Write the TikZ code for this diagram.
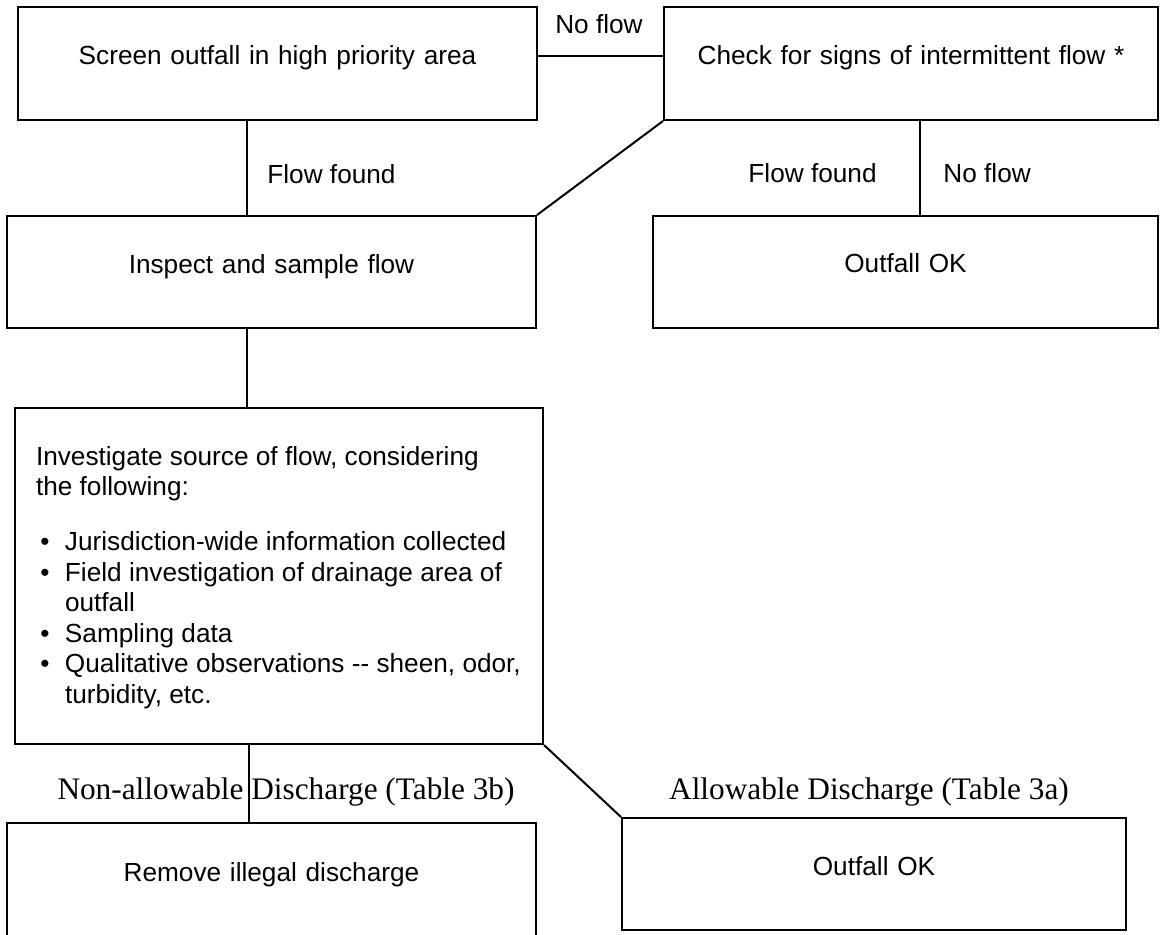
\documentclass[tikz,border=0pt]{standalone}
\usepackage{fontspec}
\setmainfont{Liberation Sans}
\newfontfamily\timesfont{Liberation Serif}
\newcommand{\bul}[1]{\par\hangindent=14.5pt\hangafter=1\noindent\makebox[14.5pt][l]{\hspace{2.2pt}\textbullet}#1}
\begin{document}
\begin{tikzpicture}[x=0.5pt,y=-0.5pt,
  box/.style={draw, line width=1pt, inner sep=0pt, align=center, font=\fontsize{13.1}{15.25}\selectfont},
  bigbox/.style={draw, line width=1pt, inner sep=0pt, font=\fontsize{13.1}{15.25}\selectfont},
  lab/.style={inner sep=0pt, font=\fontsize{13.1}{15.25}\selectfont},
  slab/.style={inner sep=0pt, font=\timesfont\fontsize{15.65}{18}\selectfont},
  conn/.style={line width=1pt}]
\useasboundingbox (0,0) rectangle (1160,934);
\fill[white] (0,0) rectangle (1160,934);

% boxes
\node[box, anchor=base, text width=259.5pt, text height=28.5pt, text depth=28pt] (screen) at (277.5,64) {Screen outfall in high priority area};
\node[box, anchor=base, text width=247pt, text height=28.5pt, text depth=28pt] (check) at (911,64) {Check for signs of intermittent flow *};
\node[box, anchor=base, text width=264.5pt, text height=28.5pt, text depth=27.5pt] (inspect) at (271.5,273) {Inspect and sample flow};
\node[box, anchor=base, text width=252.5pt, text height=28pt, text depth=28pt] (ok1) at (905.5,272) {Outfall OK};
\node[bigbox, anchor=base west, text height=28.5pt, text depth=139.5pt] (invest) at (14,465) {\parbox[t]{264pt}{\raggedright\leftskip=10.5pt\fontsize{13.1}{15.25}\selectfont
Investigate source of flow, considering\newline the following:\par
\vspace{12.25pt}
\bul{Jurisdiction-wide information collected}
\bul{Field investigation of drainage area of\newline outfall}
\bul{Sampling data}
\bul{Qualitative observations -{}- sheen, odor,\newline turbidity, etc.}\par}};
\node[box, anchor=base, text width=264.5pt, text height=29pt, text depth=29.5pt] (remove) at (271.5,881) {Remove illegal discharge};
\node[box, anchor=base, text width=252pt, text height=28.5pt, text depth=27.5pt] (ok2) at (874,875) {Outfall OK};

% connectors
\draw[conn] ([yshift=3.75pt]screen.east) -- ([yshift=3.75pt]check.west);
\coordinate (a1) at ([xshift=-15.25pt]screen.south);
\draw[conn] (a1) -- (a1 |- inspect.north);
\draw[conn] (check.south west) -- (inspect.north east);
\coordinate (a2) at ([xshift=4.5pt]check.south);
\draw[conn] (a2) -- (a2 |- ok1.north);
\coordinate (a3) at ([xshift=-12.25pt]inspect.south);
\draw[conn] (a3) -- (a3 |- invest.north);
\coordinate (a4) at ([xshift=-15pt]invest.south);
\draw[conn] (a4) -- (a4 |- remove.north);
\draw[conn] (invest.south east) -- (ok2.north west);

% labels
\node[lab, anchor=base] (nf1) at (599,33) {No flow};
\node[lab, anchor=base west] (ff1) at (267,183) {Flow found};
\node[lab, anchor=base east] (ff2) at (877,182) {Flow found};
\node[lab, anchor=base west] (nf2) at (943,182) {No flow};
\node[slab, anchor=base] (nad) at (286,799) {Non-allowable Discharge (Table 3b)};
\node[slab, anchor=base] (ad) at (869,799) {Allowable Discharge (Table 3a)};
\end{tikzpicture}
\end{document}
